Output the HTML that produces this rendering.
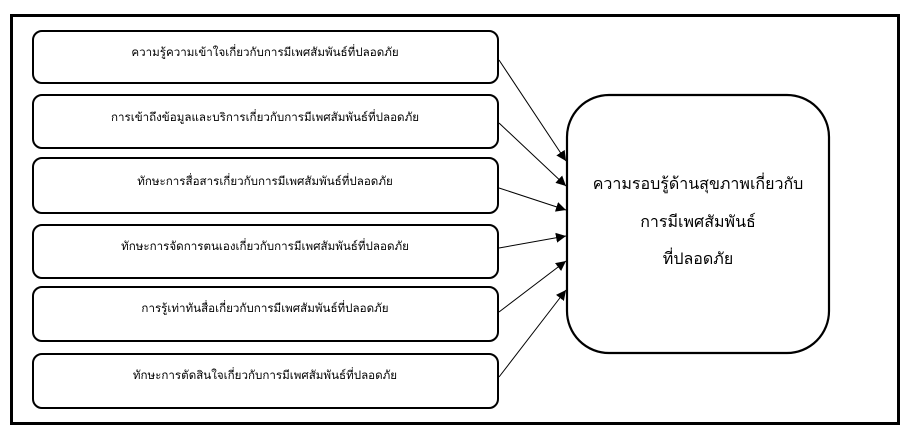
<!DOCTYPE html>
<html><head><meta charset="utf-8"><style>
html,body{margin:0;padding:0;background:#fff;}
svg{display:block;}
text{font-family:"Liberation Sans","Noto Sans CJK SC",sans-serif;fill:#000;}
</style></head><body>
<svg width="914" height="439" viewBox="0 0 914 439" xmlns="http://www.w3.org/2000/svg">
<defs><marker id="a" viewBox="0 0 10 10" refX="10" refY="5" markerWidth="10" markerHeight="10" markerUnits="userSpaceOnUse" orient="auto"><path d="M0,0 L10,5 L0,10 z" fill="#000"/></marker></defs>
<rect x="11.5" y="15.5" width="887" height="408" fill="none" stroke="#000" stroke-width="3"/>
<g fill="#fff" stroke="#000" stroke-width="2">
<rect x="33" y="31" width="465" height="52" rx="9"/>
<rect x="33" y="95" width="465" height="53" rx="9"/>
<rect x="33" y="158" width="465" height="55" rx="9"/>
<rect x="33" y="225" width="465" height="53" rx="9"/>
<rect x="33" y="287" width="465" height="54" rx="9"/>
<rect x="33" y="354" width="465" height="54" rx="9"/>
<rect x="567" y="95" width="262" height="258" rx="42" stroke-width="2.2"/>
</g>
<g stroke="#000" stroke-width="1" marker-end="url(#a)">
<line x1="499" y1="60" x2="566" y2="161"/>
<line x1="499" y1="123" x2="566" y2="186"/>
<line x1="499" y1="188" x2="566" y2="210"/>
<line x1="499" y1="248" x2="566" y2="236"/>
<line x1="499" y1="312" x2="566" y2="261"/>
<line x1="499" y1="377" x2="566" y2="290"/>
</g>
<g font-size="11.6" text-anchor="middle">
<text x="265" y="56">ความรู้ความเข้าใจเกี่ยวกับการมีเพศสัมพันธ์ที่ปลอดภัย</text>
<text x="265" y="121">การเข้าถึงข้อมูลและบริการเกี่ยวกับการมีเพศสัมพันธ์ที่ปลอดภัย</text>
<text x="265" y="185">ทักษะการสื่อสารเกี่ยวกับการมีเพศสัมพันธ์ที่ปลอดภัย</text>
<text x="265" y="250">ทักษะการจัดการตนเองเกี่ยวกับการมีเพศสัมพันธ์ที่ปลอดภัย</text>
<text x="265" y="312">การรู้เท่าทันสื่อเกี่ยวกับการมีเพศสัมพันธ์ที่ปลอดภัย</text>
<text x="265" y="379">ทักษะการตัดสินใจเกี่ยวกับการมีเพศสัมพันธ์ที่ปลอดภัย</text>
</g>
<g font-size="16" text-anchor="middle">
<text x="698" y="189">ความรอบรู้ด้านสุขภาพเกี่ยวกับ</text>
<text x="698" y="227">การมีเพศสัมพันธ์</text>
<text x="698" y="264">ที่ปลอดภัย</text>
</g>
</svg>
</body></html>
